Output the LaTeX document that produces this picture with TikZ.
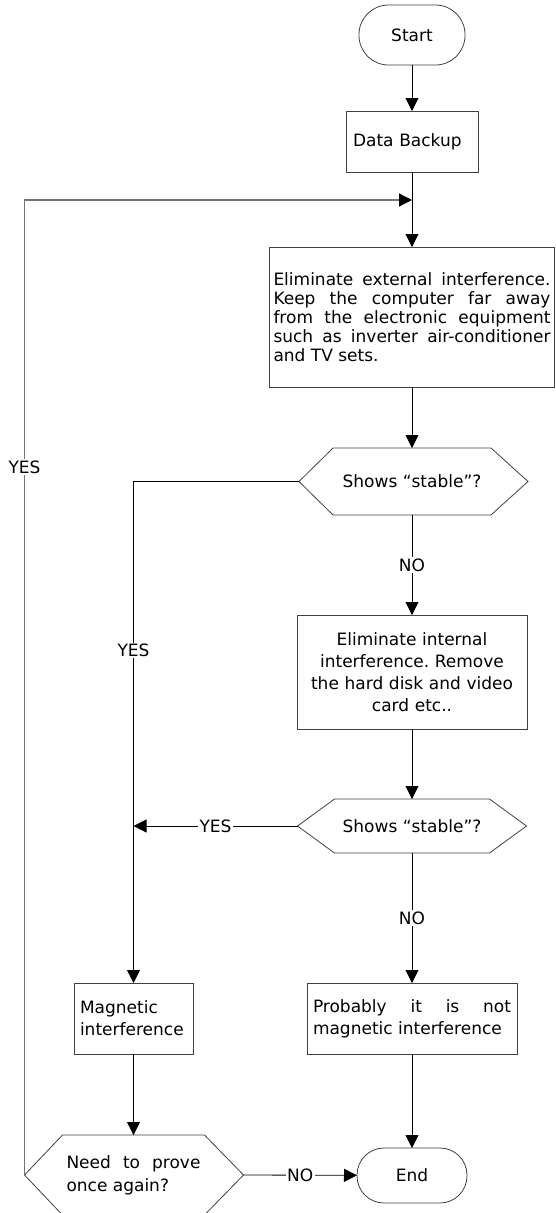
\documentclass[tikz,border=0pt]{standalone}
\usepackage{fontspec}
\setmainfont{DejaVu Sans}
\usetikzlibrary{arrows.meta}
\hyphenpenalty=10000
\exhyphenpenalty=10000
\frenchspacing

\begin{document}
\begin{tikzpicture}[x=1pt,y=-1pt]
  \tikzset{TerminalStyle/.style = {
    shape         = rectangle,
    draw          = black!75,
    fill          = white,
    line width    = 0.8pt,
    text          = black,
    inner sep     = 0pt,
    outer sep     = 0pt,
    font          = \fontsize{17}{22}\selectfont
    }
  }
  \tikzset{ProcessStyle/.style = {
    shape         = rectangle,
    draw          = black!75,
    fill          = white,
    line width    = 0.8pt,
    text          = black,
    inner ysep    = 0pt,
    outer sep     = 0pt,
    font          = \fontsize{17}{22}\selectfont
    }
  }
  \tikzset{DecisionStyle/.style = {
    shape         = rectangle,
    text          = black,
    inner sep     = 0pt,
    outer sep     = 0pt,
    font          = \fontsize{17}{23}\selectfont
    }
  }
  \tikzset{HexStyle/.style = {
    draw          = black!75,
    line width    = 0.8pt
    }
  }
  \tikzset{EdgeStyle/.style = {
    draw          = black,
    line width    = 0.8pt,
    -{Triangle[length=13pt,width=13pt]}
    }
  }
  \tikzset{LoopStyle/.style = {
    draw          = black!55,
    line width    = 1.4pt,
    -{Triangle[length=13pt,width=13pt,color=black]}
    }
  }
  \tikzset{EdgeLabelStyle/.style = {
    fill          = white,
    inner sep     = 1.5pt,
    text          = black,
    font          = \fontsize{17}{20}\selectfont
    }
  }

  \useasboundingbox (0,0) rectangle (555,1213);
  \clip (0,0) rectangle (555,1213);

	\node[TerminalStyle, rounded corners=29.5pt, minimum width=106pt, minimum height=60pt](S1) at (412, 35) {Start};
	\node[ProcessStyle, minimum height=61pt, text width=118pt, inner xsep=7pt, align=left](P1) at (412, 141.5) {Data Backup};
	\node[ProcessStyle, minimum height=140pt, text width=277pt, inner xsep=4pt, align=justify, font=\fontsize{17}{19}\selectfont](P2) at (412, 317) {Eliminate external interference.\linebreak Keep the computer far away\linebreak from the electronic equipment\linebreak such as inverter air-conditioner\linebreak and TV sets.};
	\node[DecisionStyle, minimum width=158pt, minimum height=67pt](Q1) at (412, 481.5) {Shows “stable”?};
	\node[ProcessStyle, minimum height=114pt, text width=222pt, inner xsep=4pt, align=center](P3) at (412, 672) {Eliminate internal\\interference. Remove\\the hard disk and video\\card etc..};
	\node[DecisionStyle, minimum width=155pt, minimum height=54pt](Q2) at (412, 826) {Shows “stable”?};
	\node[ProcessStyle, minimum height=71pt, text width=107pt, inner xsep=6pt, align=left](P4) at (133.5, 1018.5) {Magnetic\\interference};
	\node[ProcessStyle, minimum height=71pt, text width=198pt, inner xsep=6pt, align=justify](P5) at (412, 1018.5) {Probably it is not\linebreak magnetic interference};
	\node[DecisionStyle, minimum width=142pt, minimum height=80pt, text width=134pt, align=justify](Q3) at (133.5, 1175) {Need to prove\linebreak once again?};
	\node[TerminalStyle, rounded corners=27pt, minimum width=110pt, minimum height=55pt](E1) at (412, 1175.5) {End};

	% hexagon corners
	\coordinate (Q1w) at ([xshift=-34pt]Q1.west);
	\coordinate (Q1e) at ([xshift=37pt]Q1.east);
	\coordinate (Q2w) at ([xshift=-37pt]Q2.west);
	\coordinate (Q2e) at ([xshift=37pt]Q2.east);
	\coordinate (Q3w) at ([xshift=-38pt]Q3.west);
	\coordinate (Q3e) at ([xshift=39pt]Q3.east);
	\coordinate (J1) at (412, 200);
	\draw[HexStyle] (Q1.north west) -- (Q1.north east) -- (Q1e) -- (Q1.south east) -- (Q1.south west) -- (Q1w) -- cycle;
	\draw[HexStyle] (Q2.north west) -- (Q2.north east) -- (Q2e) -- (Q2.south east) -- (Q2.south west) -- (Q2w) -- cycle;
	\draw[HexStyle] (Q3.north west) -- (Q3.north east) -- (Q3e) -- (Q3.south east) -- (Q3.south west) -- (Q3w) -- cycle;

	\draw[EdgeStyle](S1) to (P1);
	\draw[EdgeStyle](P1) to (P2);
	\draw[EdgeStyle](P2) to (Q1);
	\draw[EdgeStyle](Q1) to node[EdgeLabelStyle]{NO} (P3);
	\draw[EdgeStyle](P3) to (Q2);
	\draw[EdgeStyle](Q2) to node[EdgeLabelStyle]{NO} (P5);
	\draw[EdgeStyle](Q1w) -- (P4 |- Q1w) -- node[EdgeLabelStyle, pos=0.337]{YES} (P4);
	\draw[EdgeStyle](Q2w) to node[EdgeLabelStyle]{YES} (Q2w -| P4);
	\draw[EdgeStyle](P4) to (Q3);
	\draw[EdgeStyle](P5) to (E1);
	\draw[EdgeStyle](Q3e) to node[EdgeLabelStyle]{NO} (E1);
	\draw[LoopStyle](Q3w) -- node[EdgeLabelStyle, pos=0.726]{YES} (Q3w |- J1) -- (J1);

  \end{tikzpicture}
\end{document}
